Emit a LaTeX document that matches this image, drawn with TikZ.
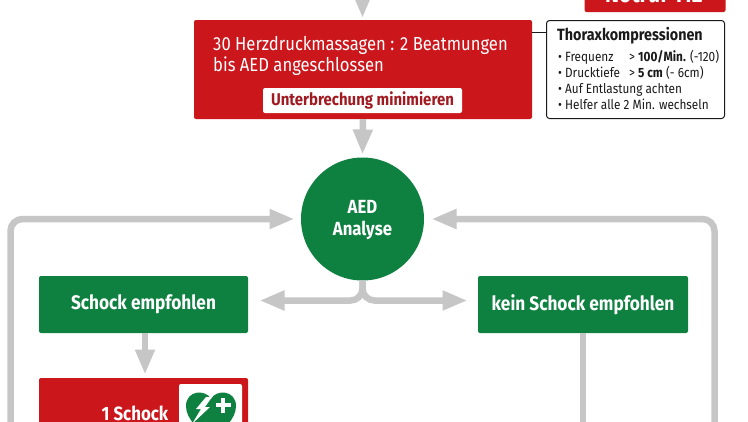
\documentclass[tikz,border=0pt]{standalone}
\usepackage{fontspec}
\setmainfont[FakeStretch=0.88]{Fira Sans}
\usetikzlibrary{arrows.meta}
\definecolor{rd}{HTML}{CB171C}
\definecolor{drd}{HTML}{A01A22}
\definecolor{gn}{HTML}{0E8040}
\definecolor{gy}{HTML}{C6C6C6}
\definecolor{dk}{HTML}{1A1A1A}
\newcommand{\fsz}[1]{\fontsize{#1}{#1}\selectfont}
\tikzset{
  x=1pt,y=-1pt,
  redbox/.style={fill=rd,rounded corners=2pt,draw=none,inner sep=0pt},
  greenbox/.style={fill=gn,rounded corners=2pt,draw=none,inner sep=0pt,text=white,font=\fsz{19.6}\bfseries},
  flow/.style={draw=gy,line width=6.5pt},
  flowtip/.style={flow,-{Triangle[width=18.5pt,length=25pt]}},
  lbl/.style={inner sep=0pt,text=white,anchor=base west},
  infotxt/.style={inner sep=0pt,anchor=base west,text=dk,font=\fsz{13.4}},
}
\begin{document}
\begin{tikzpicture}
\useasboundingbox (0,0) rectangle (748,421);
\clip (0,0) rectangle (748,421);
\fill[white] (0,0) rectangle (748,421);
% boxes
\node[redbox,minimum width=338pt,minimum height=99pt] (main) at (363,69.5) {};
\node[fill=white,draw=dk,line width=1pt,rounded corners=3pt,minimum width=178pt,minimum height=98pt,inner sep=0pt] (info) at (635.5,69.5) {};
\node[redbox,minimum width=141pt,minimum height=24pt] (top) at (655,0) {};
\node[fill=gn,circle,minimum size=123pt,inner sep=0pt] (aed) at (362.5,219) {};
\node[greenbox,minimum width=209pt,minimum height=57pt] (sch) at (143.5,304.5) {Schock empfohlen};
\node[greenbox,minimum width=210pt,minimum height=57pt] (kein) at (583,304.5) {kein Schock empfohlen};
\node[redbox,minimum width=209pt,minimum height=90pt] (one) at (143.5,423) {};
\coordinate (intop) at (362.5,-12);
\coordinate (intip) at (362.5,18);
\coordinate (lb) at (10.5,430);
\coordinate (rb) at (714.5,430);
\coordinate (kb) at (583,430);
\coordinate (schtip) at (145,374.5);
\coordinate (aedin) at (362.5,154.5);
% connectors
\draw[flowtip] (intop) -- (intip);
\draw[flowtip] (main.south) -- (aedin);
\draw[flowtip,rounded corners=12pt] (aed.south) -- (362.5,300.5) -- (259.5,300.5);
\draw[flowtip,rounded corners=12pt] (aed.south) -- (362.5,300.5) -- (467.5,300.5);
\draw[flowtip] (schtip |- sch.south) -- (schtip);
\draw[flowtip,rounded corners=12pt] (lb) -- (10.5,219) -- (294.5,219);
\draw[flowtip,rounded corners=12pt] (rb) -- (714.5,219) -- (431.5,219);
\draw[flow,line width=6pt] (kein.south) -- (kb);
\draw[line width=1pt,draw=dk] (main.east |- 0,32) -- (info.west |- 0,32);
% text in main
\node[lbl,font=\fsz{18.9}] (t1) at (213,50) {30 Herzdruckmassagen : 2 Beatmungen};
\node[lbl,font=\fsz{18.9}] (t2) at (213,71) {bis AED angeschlossen};
\node[fill=white,rounded corners=2pt,minimum width=199pt,minimum height=25pt,inner sep=0pt,text=drd,font=\fsz{17}\bfseries] (unt) at (362.5,100.5) {Unterbrechung minimieren};
% top box text, cut by the picture's edge
\node[lbl,font=\fsz{24}\bfseries] (ttop) at (605,2.5) {Notruf 112};
% info
\node[inner sep=0pt,anchor=base west,text=dk,font=\fsz{16.3}\bfseries] (ih) at (557,40) {Thoraxkompressionen};
\node[infotxt] (i1) at (558,61) {• Frequenz};
\node[infotxt] (i1b) at (629,61) {> \textbf{100/Min.} (-120)};
\node[infotxt] (i2) at (558,77) {• Drucktiefe};
\node[infotxt] (i2b) at (629,77) {> \textbf{5 cm} (- 6cm)};
\node[infotxt] (i3) at (558,93) {• Auf Entlastung achten};
\node[infotxt] (i4) at (558,109) {• Helfer alle 2 Min. wechseln};
% AED
\node[lbl,anchor=base,font=\fsz{19}\bfseries] (aedt1) at (362.5,213) {AED};
\node[lbl,anchor=base,font=\fsz{19}\bfseries] (aedt2) at (362.5,235) {Analyse};
% 1 Schock
\node[lbl,font=\fsz{19.2}\bfseries] (s1) at (101.5,420.5) {1 Schock};
\node[fill=white,rounded corners=2pt,minimum width=63pt,minimum height=70pt,inner sep=0pt] (icon) at (210.5,419) {};
\fill[gn] (211,440) .. controls (200,430) and (186,420) .. (186,406) .. controls (186,390) and (206,389) .. (211,399) .. controls (216,389) and (236,390) .. (236,406) .. controls (236,420) and (222,430) .. (211,440) -- cycle;
\fill[white] (206,397) -- (196,409) -- (201,409) -- (192,424) -- (210,407) -- (205,407) -- (212,397) -- cycle;
\fill[white] (220.7,397.5) rectangle (225.3,412.5);
\fill[white] (215.5,402.7) rectangle (230.5,407.3);
\end{tikzpicture}
\end{document}
